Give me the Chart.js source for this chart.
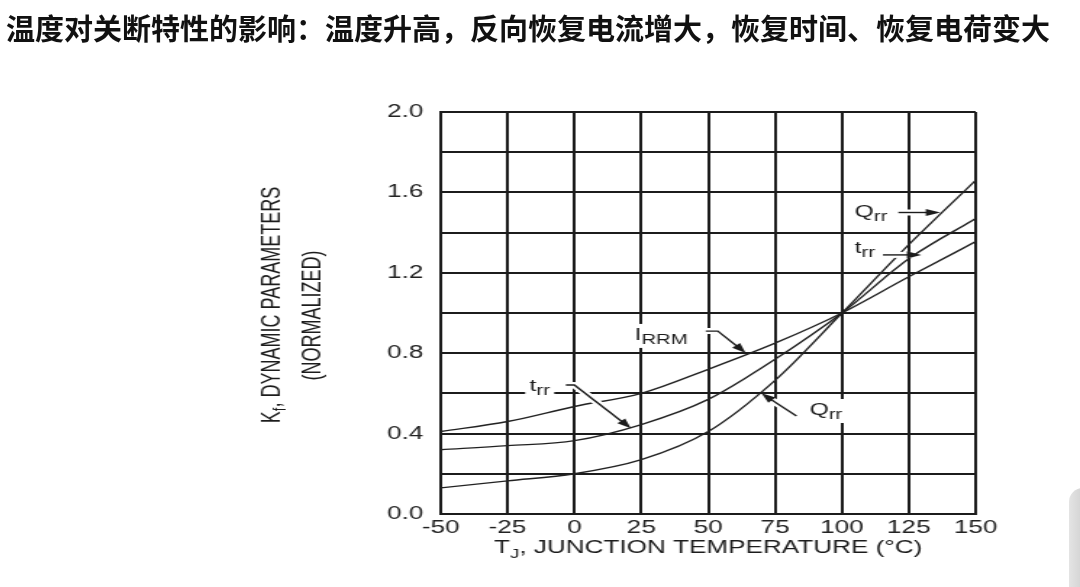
<!DOCTYPE html>
<html>
<head>
<meta charset="utf-8">
<script src="https://cdn.jsdelivr.net/npm/chart.js@4.4.1/dist/chart.umd.min.js"></script>
<style>
html,body{margin:0;padding:0;background:#fff;width:1080px;height:587px;overflow:hidden;}
#title{position:absolute;left:6px;top:13px;font-family:"Noto Sans CJK SC","Noto Sans CJK JP",sans-serif;font-weight:700;font-size:29px;line-height:29px;color:#111;white-space:nowrap;}
#wrap{position:absolute;left:0;top:0;width:745px;height:587px;transform:scaleX(1.4497);transform-origin:0 0;}
#corner{position:absolute;left:1069px;top:488px;width:14px;height:100px;background:linear-gradient(90deg,#e4e4e4,#d2d2d2);border-top-left-radius:14px;}
</style>
</head>
<body>
<div id="wrap"><canvas id="c"></canvas></div>
<div id="title">温度对关断特性的影响：温度升高，反向恢复电流增大，恢复时间、恢复电荷变大</div>
<div id="corner"></div>
<script>
// ---- data ----
const temps = [-50, -25, 0, 25, 50, 75, 100, 125, 150];
const irrm  = [0.41, 0.46, 0.535, 0.60, 0.72, 0.85, 1.0, 1.18, 1.355];
const trr   = [0.32, 0.34, 0.365, 0.445, 0.57, 0.77, 1.0, 1.27, 1.47];
const qrr   = [0.13, 0.165, 0.20, 0.27, 0.41, 0.665, 1.0, 1.34, 1.66];
const xTicks = [-50, -25, 0, 25, 50, 75, 100, 125, 150];
const yTickLabels = ['0.0', '0.4', '0.8', '1.2', '1.6', '2.0'];
const xTitle = { main: 'T', sub: 'J', rest: ', JUNCTION TEMPERATURE (°C)' };
const yTitle1 = { main: 'K', sub: 'f', rest: ', DYNAMIC PARAMETERS' };
const yTitle2 = '(NORMALIZED)';

// curve labels (data coordinates: temperature, normalized value)
const labels = [
  { main: 'Q', sub: 'rr',  t: 104.8, v: 1.479, arrow: [[121.1, 1.50], [136.8, 1.50]] },
  { main: 't', sub: 'rr',  t: 104.8, v: 1.30,  arrow: [[115.3, 1.289], [129.7, 1.289]] },
  { main: 'I', sub: 'RRM', t: 22.5,  v: 0.866, arrow: [[49.1, 0.91], [53.6, 0.91], [64.0, 0.801]] },
  { main: 't', sub: 'rr',  t: -16.8, v: 0.612, arrow: [[-3.2, 0.642], [-0.04, 0.642], [21.1, 0.426]] },
  { main: 'Q', sub: 'rr',  t: 87.9,  v: 0.4925, arrow: [[83.0, 0.4875], [69.9, 0.6005]] }
];

const INK = '#1c1c1c';
const FONT = '"Liberation Sans", Arial, sans-serif';

function series(vals) { return temps.map((t, i) => ({ x: t, y: vals[i] })); }
function ds(label, vals) {
  return {
    label: label, data: series(vals), borderColor: '#222', borderWidth: 1.4,
    pointRadius: 0, fill: false, cubicInterpolationMode: 'monotone'
  };
}

function drawSubText(ctx, x, y, p, mainSize, subSize, drop) {
  ctx.font = mainSize + 'px ' + FONT;
  ctx.fillText(p.main, x, y);
  let w = ctx.measureText(p.main).width;
  ctx.font = subSize + 'px ' + FONT;
  ctx.fillText(p.sub, x + w, y + drop);
  let w2 = ctx.measureText(p.sub).width;
  let w3 = 0;
  if (p.rest) {
    ctx.font = mainSize + 'px ' + FONT;
    ctx.fillText(p.rest, x + w + w2, y);
    w3 = ctx.measureText(p.rest).width;
  }
  return w + w2 + w3;
}
function measureSubText(ctx, p, mainSize, subSize) {
  ctx.font = mainSize + 'px ' + FONT;
  let w = ctx.measureText(p.main).width + (p.rest ? ctx.measureText(p.rest).width : 0);
  ctx.font = subSize + 'px ' + FONT;
  return w + ctx.measureText(p.sub).width;
}

const labelPlugin = {
  id: 'curveLabels',
  afterDatasetsDraw(chart) {
    const ctx = chart.ctx, xs = chart.scales.x, ys = chart.scales.y;
    ctx.save();
    labels.forEach(l => {
      const pts = l.arrow.map(p => [xs.getPixelForValue(p[0]), ys.getPixelForValue(p[1])]);
      // white halo for arrow
      ctx.strokeStyle = '#fff'; ctx.lineWidth = 6; ctx.lineJoin = 'round'; ctx.lineCap = 'butt';
      ctx.beginPath(); ctx.moveTo(pts[0][0], pts[0][1]);
      for (let i = 1; i < pts.length - 1; i++) ctx.lineTo(pts[i][0], pts[i][1]);
      const a = pts[pts.length - 2], b = pts[pts.length - 1];
      const dx = b[0] - a[0], dy = b[1] - a[1], len = Math.hypot(dx, dy), ux = dx / len, uy = dy / len;
      ctx.lineTo(b[0] - ux * 6, b[1] - uy * 6);
      ctx.stroke();
      // text box
      const x = xs.getPixelForValue(l.t), y = ys.getPixelForValue(l.v);
      const w = measureSubText(ctx, l, 17, 14);
      ctx.fillStyle = '#fff';
      ctx.fillRect(x - 3, y - 16, w + 6, 24);
      // arrow line
      ctx.strokeStyle = INK; ctx.lineWidth = 1.4; ctx.lineJoin = 'miter';
      ctx.beginPath(); ctx.moveTo(pts[0][0], pts[0][1]);
      for (let i = 1; i < pts.length - 1; i++) ctx.lineTo(pts[i][0], pts[i][1]);
      ctx.lineTo(b[0] - ux * 8, b[1] - uy * 8);
      ctx.stroke();
      // arrow head
      const hl = 10, hw = 3.6;
      ctx.fillStyle = INK;
      ctx.beginPath();
      ctx.moveTo(b[0], b[1]);
      ctx.lineTo(b[0] - ux * hl - uy * hw, b[1] - uy * hl + ux * hw);
      ctx.lineTo(b[0] - ux * hl + uy * hw, b[1] - uy * hl - ux * hw);
      ctx.closePath(); ctx.fill();
      // text
      ctx.fillStyle = INK; ctx.textAlign = 'left'; ctx.textBaseline = 'alphabetic';
      drawSubText(ctx, x, y, l, 17, 14, 4);
    });
    ctx.restore();
  },
  afterDraw(chart) {
    const ctx = chart.ctx, ca = chart.chartArea;
    ctx.save();
    ctx.fillStyle = INK; ctx.textAlign = 'left'; ctx.textBaseline = 'alphabetic';
    // x axis title
    const wx = measureSubText(ctx, xTitle, 18, 13);
    drawSubText(ctx, (ca.left + ca.right) / 2 - wx / 2, ca.bottom + 39, xTitle, 18, 13, 5);
    // y axis title (two lines, rotated)
    const cy = (ca.top + ca.bottom) / 2;
    ctx.save();
    ctx.translate(ca.left - 111, cy - 8);
    ctx.rotate(-Math.PI / 2);
    const w1 = measureSubText(ctx, yTitle1, 18, 13);
    drawSubText(ctx, -w1 / 2, 0, yTitle1, 18, 13, 4);
    ctx.restore();
    ctx.save();
    ctx.translate(ca.left - 83.5, cy + 2.5);
    ctx.rotate(-Math.PI / 2);
    ctx.font = '18px ' + FONT;
    ctx.textAlign = 'center';
    ctx.fillText(yTitle2, 0, 0);
    ctx.restore();
    ctx.restore();
  }
};

new Chart(document.getElementById('c'), {
  type: 'line',
  data: { datasets: [ds('IRRM', irrm), ds('trr', trr), ds('Qrr', qrr)] },
  options: {
    responsive: true, maintainAspectRatio: false, animation: false,
    layout: { padding: { left: 0, right: 72, top: 112, bottom: 0 } },
    plugins: { legend: { display: false }, tooltip: { enabled: false }, title: { display: false } },
    scales: {
      x: {
        type: 'linear', min: -50, max: 150,
        afterBuildTicks: s => { s.ticks = xTicks.map(v => ({ value: v })); },
        afterFit: s => { s.height = 73; },
        ticks: { autoSkip: false, maxRotation: 0, padding: 3, color: '#222', font: { family: FONT, size: 18 } },
        grid: { color: INK, lineWidth: 2, drawTicks: false },
        border: { color: INK, width: 2 }
      },
      y: {
        type: 'linear', min: 0, max: 2,
        afterFit: s => { s.width = 304; },
        ticks: {
          stepSize: 0.2, autoSkip: false, padding: 12, color: '#222', font: { family: FONT, size: 18 },
          callback: v => { const s = Number(v).toFixed(1); return yTickLabels.includes(s) ? s : ''; }
        },
        grid: { color: INK, lineWidth: 2, drawTicks: false },
        border: { color: INK, width: 2 }
      }
    }
  },
  plugins: [labelPlugin]
});
</script>
</body>
</html>
